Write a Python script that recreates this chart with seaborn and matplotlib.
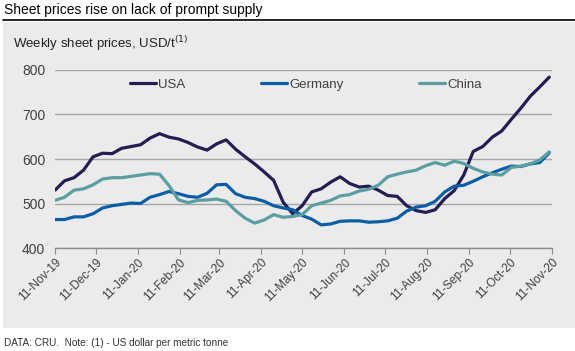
import pandas as pd
import seaborn as sns
import matplotlib.pyplot as plt
import matplotlib.dates as mdates
from matplotlib.patches import Rectangle

# Weekly prices, USD/t, starting 11-Nov-19
weeks = pd.date_range("2019-11-11", periods=53, freq="7D")
usa = [530, 551, 558, 575, 605, 613, 612, 624, 628, 632, 647, 657, 649,
       645, 637, 627, 620, 634, 643, 622, 605, 589, 571, 552, 503, 477,
       495, 526, 533, 548, 560, 545, 537, 539, 530, 518, 516, 495, 484,
       480, 486, 511, 529, 564, 617, 628, 649, 663, 689, 714, 741, 762, 784]
germany = [464, 464, 470, 470, 477, 490, 495, 498, 501, 500, 514, 520, 527,
           522, 516, 514, 523, 542, 543, 522, 514, 511, 505, 495, 490, 486,
           473, 465, 452, 454, 460, 461, 461, 458, 459, 461, 467, 483, 492,
           495, 505, 526, 539, 541, 550, 560, 569, 577, 584, 583, 589, 592, 614]
china = [507, 514, 530, 533, 542, 555, 558, 558, 561, 564, 567, 566, 540,
         508, 502, 507, 508, 510, 505, 484, 467, 456, 463, 475, 469, 471,
         475, 495, 501, 507, 517, 520, 528, 532, 541, 560, 566, 571, 575,
         585, 592, 586, 595, 590, 579, 571, 566, 564, 581, 584, 589, 598, 616]

countries = ["USA", "Germany", "China"]
colors = ["#221d52", "#0b5ea6", "#5b9ea1"]

df = pd.DataFrame({
    "week": list(weeks) * 3,
    "price": usa + germany + china,
    "country": ["USA"] * 53 + ["Germany"] * 53 + ["China"] * 53,
})

sns.set_style("white")
plt.rcParams["font.family"] = ["Liberation Sans", "DejaVu Sans"]

fig = plt.figure(figsize=(5.75, 3.51), dpi=100)
fig.patch.set_facecolor("white")

# grey panel behind the chart
fig.patches.append(Rectangle((0.005, 0.065), 0.995, 0.872, transform=fig.transFigure,
                             facecolor="#ebebeb", edgecolor="none", zorder=-5))
fig.add_artist(plt.Line2D([0.005, 1.0], [0.943, 0.943], color="black", lw=1.2))

fig.text(0.007, 0.972, "Sheet prices rise on lack of prompt supply",
         fontsize=10, va="center", ha="left", color="black")
fig.text(0.022, 0.877, "Weekly sheet prices, USD/t$^{(1)}$",
         fontsize=9.5, va="center", ha="left", color="#222222")
fig.text(0.007, 0.022, "DATA: CRU.  Note: (1) - US dollar per metric tonne",
         fontsize=7.2, va="center", ha="left", color="#333333")

ax = fig.add_axes([0.0957, 0.2934, 0.8643, 0.5072])
ax.set_facecolor("none")
ax.set_zorder(2)

sns.lineplot(data=df, x="week", y="price", hue="country", hue_order=countries,
             palette=colors, linewidth=2.3, ax=ax)

ax.set_ylim(400, 800)
ax.set_yticks([400, 500, 600, 700, 800])
ax.set_xlim(pd.Timestamp("2019-11-11"), pd.Timestamp("2020-11-11"))
ax.xaxis.set_major_locator(mdates.MonthLocator(bymonthday=11))
ax.xaxis.set_major_formatter(mdates.DateFormatter("%d-%b-%y"))

ax.grid(axis="y", color="#a6a6a6", linewidth=1)
ax.grid(axis="x", visible=False)
for side in ["top", "right", "left"]:
    ax.spines[side].set_visible(False)
ax.spines["bottom"].set_color("#8c8c8c")
ax.spines["bottom"].set_linewidth(1)

ax.tick_params(axis="y", length=0, pad=7, labelsize=10, labelcolor="#404040")
ax.tick_params(axis="x", length=4, width=0.8, color="#8c8c8c", direction="out",
               labelsize=8.5, labelcolor="#404040", bottom=True, pad=2)
for lbl in ax.get_xticklabels():
    lbl.set_rotation(45)
    lbl.set_ha("right")
    lbl.set_rotation_mode("anchor")

ax.set_xlabel("")
ax.set_ylabel("")

ax.legend(loc="center left", bbox_to_anchor=(0.151, 0.916), ncol=3, frameon=False,
          fontsize=9.5, handlelength=2.0, handletextpad=0.15, columnspacing=5.7,
          borderpad=0, borderaxespad=0, labelcolor="#404040")

fig.savefig("out.png", dpi=100)
